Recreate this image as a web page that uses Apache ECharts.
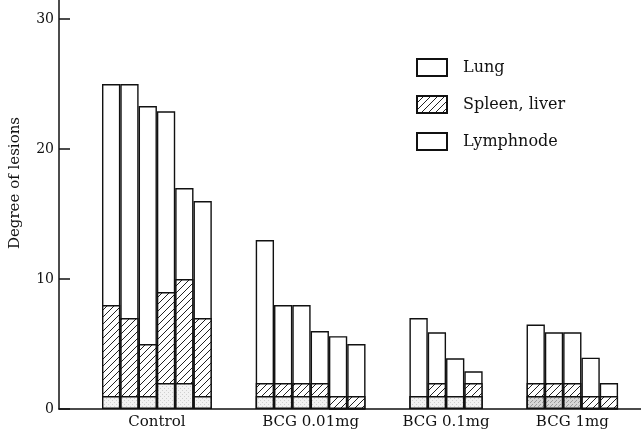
<!DOCTYPE html>
<html>
<head>
<meta charset="utf-8">
<script src="https://cdn.jsdelivr.net/npm/echarts@6/dist/echarts.min.js"></script>
<style>html,body{margin:0;padding:0;background:#fff}#c{width:641px;height:436px}</style>
</head>
<body>
<div id="c"></div>
<script>
// ---- data ----
const groups = ['Control', 'BCG 0.01mg', 'BCG 0.1mg', 'BCG 1mg'];
const lymphnode   = [[1, 1, 1, 2, 2, 1], [1, 1, 1, 1, 0, 0], [1, 1, 1, 1], [1, 1, 1, 0, 0]];
const spleenLiver = [[7, 6, 4, 7, 8, 6], [1, 1, 1, 1, 1, 1], [0, 1, 0, 1], [1, 1, 1, 1, 1]];
const lung        = [[17, 18, 18.3, 13.9, 7, 9], [11, 6, 6, 4, 4.6, 4], [6, 3.9, 2.9, 0.9], [4.5, 3.9, 3.9, 2.95, 1]];
const yTicks = [0, 10, 20, 30];
const yTitle = 'Degree of lesions';

// ---- layout ----
const BAR_PX = 18.3, LEFT = 59, W = 641, LEAD = 2.35, GAP = 2.4;
const xMax = (W - LEFT) / BAR_PX;
const FONT = 'DejaVu Serif';

function pattern(kind) {
  const c = document.createElement('canvas');
  const ctx = c.getContext('2d');
  if (kind === 'hatch') {
    const s = 7;
    c.width = s; c.height = s;
    ctx.fillStyle = '#fff'; ctx.fillRect(0, 0, s, s);
    ctx.strokeStyle = '#222'; ctx.lineWidth = 1;
    ctx.beginPath();
    ctx.moveTo(-1, s + 1); ctx.lineTo(s + 1, -1);
    ctx.moveTo(-s - 1, 1); ctx.lineTo(1, -s - 1);
    ctx.moveTo(s - 1, 2 * s + 1); ctx.lineTo(2 * s + 1, s - 1);
    ctx.stroke();
  } else {
    c.width = 4; c.height = 4;
    const dark = kind === 'dotDark';
    ctx.fillStyle = dark ? '#d6d6d6' : '#f2f2f2'; ctx.fillRect(0, 0, 4, 4);
    ctx.fillStyle = dark ? '#9a9a9a' : '#cfcfcf';
    ctx.fillRect(0, 0, 1, 1); ctx.fillRect(2, 2, 1, 1);
    if (dark) { ctx.fillRect(3, 1, 1, 1); }
  }
  return { image: c, repeat: 'repeat' };
}
const hatchFill = pattern('hatch');
const dotFill = pattern('dot');
const dotDarkFill = pattern('dotDark');

// bar positions & group centres in axis units
const xs = [], groupOf = [], centres = [];
let cursor = LEAD;
groups.forEach((g, gi) => {
  const n = lung[gi].length;
  for (let i = 0; i < n; i++) { xs.push(cursor + i + 0.5); groupOf.push(gi); }
  centres.push(cursor + n / 2);
  cursor += n + GAP;
});
// segments are drawn as overlapping bars from 0 to their cumulative top
const lyF = lymphnode.flat(), spF = spleenLiver.flat(), luF = lung.flat();
const lymphTop = lyF;
const spleenTop = lyF.map((v, k) => v + spF[k]);
const lungTop = spleenTop.map((v, k) => v + luF[k]);

const lymphData = lymphTop.map((v, k) => groupOf[k] === 3
  ? { value: [xs[k], v], itemStyle: { color: dotDarkFill } }
  : [xs[k], v]);
const spleenData = spleenTop.map((v, k) => [xs[k], v]);
const lungData = lungTop.map((v, k) => [xs[k], v]);

const border = { borderColor: '#111', borderWidth: 1.4 };
const chart = echarts.init(document.getElementById('c'), null, { renderer: 'canvas' });
chart.setOption({
  animation: false,
  backgroundColor: '#fff',
  grid: { left: LEFT, right: 0, top: 0, bottom: 27, containLabel: false },
  legend: {
    orient: 'vertical', left: 416, top: 58, padding: 0,
    itemWidth: 30, itemHeight: 17, itemGap: 18,
    icon: 'rect',
    textStyle: { fontFamily: FONT, fontSize: 16, color: '#111', padding: [0, 0, 0, 11] },
    data: [
      { name: 'Lung' },
      { name: 'Spleen, liver' },
      { name: 'Lymphnode', itemStyle: { color: '#fff' } }
    ]
  },
  xAxis: {
    type: 'value', min: 0, max: xMax,
    splitLine: { show: false },
    axisLine: { show: true, onZero: false, lineStyle: { color: '#111', width: 1.5 } },
    axisTick: { show: false },
    axisLabel: {
      customValues: centres, margin: 6,
      fontFamily: FONT, fontSize: 15, color: '#111',
      formatter: v => { const i = centres.findIndex(c => Math.abs(c - v) < 1e-6); return i >= 0 ? groups[i] : ''; }
    }
  },
  yAxis: {
    type: 'value', min: 0, max: 409 / 13,
    splitLine: { show: false },
    axisLine: { show: true, lineStyle: { color: '#111', width: 1.5 } },
    axisTick: { show: true, inside: true, length: 11, customValues: yTicks, lineStyle: { color: '#111', width: 1.5 } },
    axisLabel: { customValues: yTicks, margin: 5, fontFamily: FONT, fontSize: 14, color: '#111' }
  },
  graphic: [{
    type: 'text', x: 15, y: 183, rotation: Math.PI / 2,
    style: { text: yTitle, font: '15px "DejaVu Serif"', fill: '#111', align: 'center', verticalAlign: 'middle' }
  }],
  series: [
    { name: 'Lung', type: 'bar', barWidth: BAR_PX, barGap: '-100%', data: lungData,
      itemStyle: Object.assign({ color: '#fff' }, border) },
    { name: 'Spleen, liver', type: 'bar', barWidth: BAR_PX, barGap: '-100%', data: spleenData,
      itemStyle: Object.assign({ color: hatchFill }, border) },
    { name: 'Lymphnode', type: 'bar', barWidth: BAR_PX, barGap: '-100%', data: lymphData,
      itemStyle: Object.assign({ color: dotFill }, border) }
  ]
});
</script>
</body>
</html>
